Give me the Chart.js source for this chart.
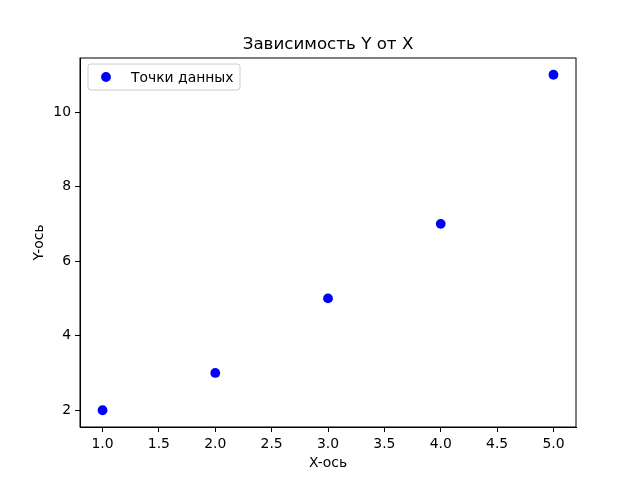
<!DOCTYPE html>
<html>
<head>
<meta charset="utf-8">
<script src="https://cdn.jsdelivr.net/npm/chart.js@4"></script>
<style>
  body { margin: 0; background: #fff; }
  #c { display: block; }
</style>
</head>
<body>
<canvas id="c" width="640" height="480"></canvas>
<script>
const xValues = [1, 2, 3, 4, 5];
const yValues = [2, 3, 5, 7, 11];
const xTicks = [1.0, 1.5, 2.0, 2.5, 3.0, 3.5, 4.0, 4.5, 5.0];
const yTicks = [2, 4, 6, 8, 10];
const chartTitle = 'Зависимость Y от X';
const xLabel = 'X-ось';
const yLabel = 'Y-ось';
const seriesName = 'Точки данных';

const fontType = '"DejaVu Sans", sans-serif';
const markerR = 4.9;

// title, axis labels, spines, legend box
const extras = {
  id: 'extras',
  afterDraw(chart) {
    const ctx = chart.ctx;
    const a = chart.chartArea;
    ctx.save();
    ctx.strokeStyle = '#000';
    ctx.lineWidth = 1;
    ctx.strokeRect(a.left, a.top, a.right - a.left, a.bottom - a.top);

    ctx.fillStyle = '#000';
    ctx.textAlign = 'center';
    ctx.textBaseline = 'alphabetic';
    ctx.font = '16.7px ' + fontType;
    ctx.fillText(chartTitle, (a.left + a.right) / 2, 49);

    ctx.font = '13.9px ' + fontType;
    ctx.fillText(xLabel, (a.left + a.right) / 2, 467);
    ctx.translate(43, (a.top + a.bottom) / 2);
    ctx.rotate(-Math.PI / 2);
    ctx.fillText(yLabel, 0, 0);
    ctx.restore();

    // legend
    ctx.save();
    const lx = a.left + 8, ly = a.top + 6, lw = 152, lh = 26, r = 3;
    ctx.beginPath();
    ctx.moveTo(lx + r, ly);
    ctx.arcTo(lx + lw, ly, lx + lw, ly + lh, r);
    ctx.arcTo(lx + lw, ly + lh, lx, ly + lh, r);
    ctx.arcTo(lx, ly + lh, lx, ly, r);
    ctx.arcTo(lx, ly, lx + lw, ly, r);
    ctx.closePath();
    ctx.fillStyle = 'rgba(255,255,255,0.8)';
    ctx.fill();
    ctx.strokeStyle = '#cccccc';
    ctx.stroke();
    ctx.beginPath();
    ctx.arc(lx + 18, ly + lh / 2, markerR, 0, Math.PI * 2);
    ctx.fillStyle = '#0000ff';
    ctx.fill();
    ctx.fillStyle = '#000';
    ctx.font = '13.9px ' + fontType;
    ctx.textBaseline = 'middle';
    ctx.fillText(seriesName, lx + 43, ly + lh / 2 + 1);
    ctx.restore();
  }
};

const points = xValues.map((x, i) => ({ x: x, y: yValues[i] }));

new Chart(document.getElementById('c'), {
  type: 'scatter',
  data: {
    datasets: [{
      label: seriesName,
      data: points,
      backgroundColor: '#0000ff',
      borderColor: '#0000ff',
      pointRadius: markerR,
      pointHoverRadius: markerR,
      borderWidth: 0
    }]
  },
  options: {
    responsive: false,
    animation: false,
    layout: { padding: { top: 58, right: 64, left: 0, bottom: 0 } },
    plugins: {
      legend: { display: false },
      title: { display: false },
      tooltip: { enabled: false }
    },
    scales: {
      x: {
        type: 'linear',
        min: 0.8,
        max: 5.2,
        afterFit(s) { s.height = 53; },
        afterBuildTicks(s) { s.ticks = xTicks.map(v => ({ value: v })); },
        grid: { drawOnChartArea: false, drawTicks: true, tickLength: 5, color: '#000' },
        border: { display: true, color: '#000' },
        ticks: {
          color: '#000',
          padding: 4,
          maxRotation: 0,
          font: { family: fontType, size: 13.9 },
          callback: v => Number(v).toFixed(1)
        }
      },
      y: {
        type: 'linear',
        min: 1.55,
        max: 11.45,
        afterFit(s) { s.width = 80; },
        afterBuildTicks(s) { s.ticks = yTicks.map(v => ({ value: v })); },
        grid: { drawOnChartArea: false, drawTicks: true, tickLength: 5, color: '#000' },
        border: { display: true, color: '#000' },
        ticks: {
          color: '#000',
          padding: 4,
          font: { family: fontType, size: 13.9 },
          callback: v => String(v)
        }
      }
    }
  },
  plugins: [extras]
});
</script>
</body>
</html>
